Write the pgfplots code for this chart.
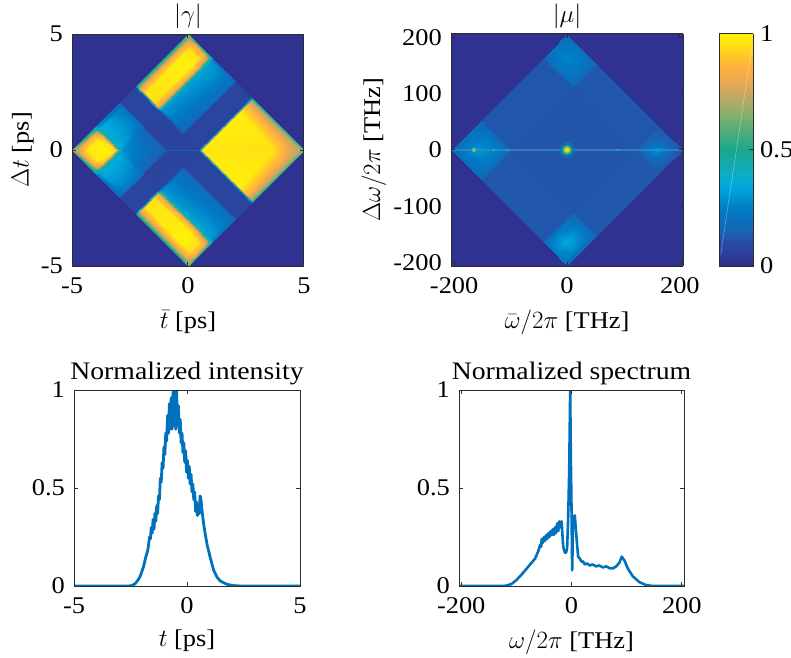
\documentclass[border=0pt]{standalone}
\usepackage{fontspec}
\setmainfont[FakeStretch=1.1]{Liberation Serif}
\usepackage{pgfplots}
\usepackage{pgfplotstable}
\pgfplotsset{compat=1.18}
\definecolor{mblue}{RGB}{0,114,189}
\definecolor{bgc}{RGB}{48,50,145}
\definecolor{axc}{RGB}{45,45,45}
\newcommand\fs{\fontsize{24}{28}\selectfont}
\newcommand\ft{\fontsize{25.2}{29}\selectfont}
\pgfplotsset{
 colormap={par}{rgb255=(50,45,135) rgb255=(45,62,152) rgb255=(40,74,164) rgb255=(25,100,180) rgb255=(10,112,190) rgb255=(0,125,197) rgb255=(0,150,210) rgb255=(0,170,218) rgb255=(15,172,195) rgb255=(20,170,165) rgb255=(25,167,140) rgb255=(60,170,130) rgb255=(95,172,118) rgb255=(130,175,110) rgb255=(170,172,105) rgb255=(205,168,95) rgb255=(235,170,80) rgb255=(255,175,65) rgb255=(255,195,45) rgb255=(255,225,20) rgb255=(255,240,10)},
 base/.style={
  scale only axis,
  font=\fs, tick label style={font=\fs}, label style={font=\fs}, title style={font=\ft,yshift=-9pt},
  axis line style={axc,line width=1pt}, tick align=inside, major tick length=4pt,
  tick style={axc,line width=1pt}, axis on top, clip=true,
  xticklabel style={yshift=-3.5pt}, yticklabel style={xshift=-1pt}, ylabel shift=-9pt,
 },
 heat/.style={base, width=232pt,height=232pt, view={0}{90}, zmin=-1,zmax=1, ztick=\empty,
  axis background/.style={fill=bgc}, point meta min=0, point meta max=1},
 curve/.style={base, width=226pt,height=196pt, ymin=0,ymax=1, ytick={0,0.5,1}, yticklabels={0,0.5,1}},
}
\pgfplotstableread{
p q c
-5 -5 .70
-5 -4.7 .62
-5 -4.3 .50
-5 -3.5 .45
-5 -3.15 .40
-5 -2.85 .25
-5 -1 .18
-5 -.85 .08
-5 .4 .08
-5 .6 .48
-5 3.7 .48
-5 4.4 .50
-5 4.8 .62
-5 5 .72
-4.7 -5 .62
-4.7 -4.7 .78
-4.7 -4.3 .85
-4.7 -3.5 .85
-4.7 -3.15 .72
-4.7 -2.85 .38
-4.7 -1 .22
-4.7 -.85 .08
-4.7 .4 .08
-4.7 .6 .80
-4.7 3.7 .82
-4.7 4.4 .82
-4.7 4.8 .75
-4.7 5 .62
-4.3 -5 .50
-4.3 -4.7 .85
-4.3 -4.3 .97
-4.3 -3.5 1
-4.3 -3.15 .88
-4.3 -2.85 .38
-4.3 -1 .24
-4.3 -.85 .08
-4.3 .4 .08
-4.3 .6 .95
-4.3 3.7 1
-4.3 4.4 .95
-4.3 4.8 .82
-4.3 5 .52
-3.5 -5 .45
-3.5 -4.7 .85
-3.5 -4.3 1
-3.5 -3.5 1
-3.5 -3.15 .95
-3.5 -2.85 .36
-3.5 -1 .24
-3.5 -.85 .08
-3.5 .4 .08
-3.5 .6 .95
-3.5 3.7 1
-3.5 4.4 .95
-3.5 4.8 .85
-3.5 5 .50
-3.15 -5 .40
-3.15 -4.7 .72
-3.15 -4.3 .88
-3.15 -3.5 .95
-3.15 -3.15 .95
-3.15 -2.85 .36
-3.15 -1 .22
-3.15 -.85 .08
-3.15 .4 .08
-3.15 .6 .82
-3.15 3.7 .85
-3.15 4.4 .80
-3.15 4.8 .72
-3.15 5 .45
-2.85 -5 .25
-2.85 -4.7 .38
-2.85 -4.3 .38
-2.85 -3.5 .36
-2.85 -3.15 .36
-2.85 -2.85 .30
-2.85 -1 .17
-2.85 -.85 .07
-2.85 .4 .08
-2.85 .6 .30
-2.85 3.7 .33
-2.85 4.4 .33
-2.85 4.8 .30
-2.85 5 .22
-1 -5 .18
-1 -4.7 .22
-1 -4.3 .24
-1 -3.5 .24
-1 -3.15 .22
-1 -2.85 .17
-1 -1 .13
-1 -.85 .07
-1 .4 .08
-1 .6 .17
-1 3.7 .20
-1 4.4 .20
-1 4.8 .20
-1 5 .17
-.85 -5 .08
-.85 -4.7 .08
-.85 -4.3 .08
-.85 -3.5 .08
-.85 -3.15 .08
-.85 -2.85 .07
-.85 -1 .07
-.85 -.85 .07
-.85 .4 .07
-.85 .6 .08
-.85 3.7 .08
-.85 4.4 .08
-.85 4.8 .08
-.85 5 .08
.4 -5 .08
.4 -4.7 .08
.4 -4.3 .08
.4 -3.5 .08
.4 -3.15 .08
.4 -2.85 .08
.4 -1 .08
.4 -.85 .07
.4 .4 .07
.4 .6 .08
.4 3.7 .08
.4 4.4 .08
.4 4.8 .08
.4 5 .08
.6 -5 .48
.6 -4.7 .80
.6 -4.3 .95
.6 -3.5 .95
.6 -3.15 .82
.6 -2.85 .30
.6 -1 .17
.6 -.85 .08
.6 .4 .08
.6 .6 .97
.6 3.7 1
.6 4.4 .88
.6 4.8 .72
.6 5 .50
3.7 -5 .48
3.7 -4.7 .82
3.7 -4.3 1
3.7 -3.5 1
3.7 -3.15 .85
3.7 -2.85 .33
3.7 -1 .20
3.7 -.85 .08
3.7 .4 .08
3.7 .6 1
3.7 3.7 .95
3.7 4.4 .85
3.7 4.8 .72
3.7 5 .55
4.4 -5 .50
4.4 -4.7 .82
4.4 -4.3 .95
4.4 -3.5 .95
4.4 -3.15 .80
4.4 -2.85 .33
4.4 -1 .20
4.4 -.85 .08
4.4 .4 .08
4.4 .6 .88
4.4 3.7 .85
4.4 4.4 .78
4.4 4.8 .72
4.4 5 .56
4.8 -5 .62
4.8 -4.7 .75
4.8 -4.3 .82
4.8 -3.5 .85
4.8 -3.15 .72
4.8 -2.85 .30
4.8 -1 .20
4.8 -.85 .08
4.8 .4 .08
4.8 .6 .72
4.8 3.7 .72
4.8 4.4 .72
4.8 4.8 .72
4.8 5 .62
5 -5 .72
5 -4.7 .62
5 -4.3 .52
5 -3.5 .50
5 -3.15 .45
5 -2.85 .22
5 -1 .17
5 -.85 .08
5 .4 .08
5 .6 .50
5 3.7 .55
5 4.4 .56
5 4.8 .62
5 5 .72
}\gammatab
\pgfplotstableread{
p q c
-204 -204 .18
-204 -165 .20
-204 -130 .20
-204 -105 .18
-204 -98 .125
-204 120 .125
-204 125 .20
-204 160 .25
-204 188 .24
-204 204 .22
-165 -204 .20
-165 -165 .30
-165 -130 .25
-165 -105 .20
-165 -98 .125
-165 120 .125
-165 125 .24
-165 160 .35
-165 188 .28
-165 204 .20
-130 -204 .20
-130 -165 .25
-130 -130 .27
-130 -105 .20
-130 -98 .125
-130 120 .125
-130 125 .23
-130 160 .28
-130 188 .25
-130 204 .18
-105 -204 .18
-105 -165 .20
-105 -130 .20
-105 -105 .18
-105 -98 .125
-105 120 .125
-105 125 .18
-105 160 .20
-105 188 .20
-105 204 .16
-98 -204 .125
-98 -165 .125
-98 -130 .125
-98 -105 .125
-98 -98 .12
-98 120 .12
-98 125 .125
-98 160 .125
-98 188 .125
-98 204 .125
120 -204 .125
120 -165 .125
120 -130 .125
120 -105 .125
120 -98 .12
120 120 .12
120 125 .125
120 160 .125
120 188 .125
120 204 .125
125 -204 .18
125 -165 .22
125 -130 .21
125 -105 .18
125 -98 .125
125 120 .125
125 125 .14
125 160 .15
125 188 .14
125 204 .125
160 -204 .22
160 -165 .27
160 -130 .24
160 -105 .18
160 -98 .125
160 120 .125
160 125 .15
160 160 .31
160 188 .16
160 204 .125
188 -204 .20
188 -165 .24
188 -130 .22
188 -105 .18
188 -98 .125
188 120 .125
188 125 .14
188 160 .16
188 188 .14
188 204 .125
204 -204 .20
204 -165 .20
204 -130 .18
204 -105 .16
204 -98 .125
204 120 .125
204 125 .125
204 160 .125
204 188 .125
204 204 .125
}\mutab
\pgfplotstableread{
t v
-5 0
-2.6 0
-2.45 .002
-2.29 .012
-2.17 .03
-2.07 .05
-1.92 .10
-1.82 .15
-1.74 .18
-1.70 .21
-1.66 .25
-1.62 .24
-1.58 .30
-1.54 .27
-1.50 .34
-1.46 .29
-1.42 .37
-1.38 .33
-1.34 .41
-1.30 .37
-1.26 .46
-1.22 .44
-1.18 .55
-1.14 .53
-1.10 .63
-1.06 .60
-1.02 .71
-.98 .67
-.94 .78
-.90 .74
-.86 .87
-.82 .78
-.78 .93
-.74 .80
-.70 .96
-.66 .80
-.62 .99
-.58 .82
-.54 1.0
-.50 .80
-.46 1.0
-.42 .82
-.38 .92
-.34 .78
-.30 .85
-.26 .73
-.22 .78
-.18 .68
-.14 .73
-.10 .63
-.06 .69
-.02 .58
.02 .64
.06 .55
.10 .61
.14 .52
.18 .57
.22 .48
.26 .52
.30 .44
.34 .48
.38 .38
.42 .43
.46 .36
.50 .38
.54 .37
.58 .46
.62 .44
.66 .39
.72 .33
.80 .27
.89 .21
1.04 .14
1.18 .08
1.33 .045
1.48 .025
1.78 .008
2.07 .002
2.4 0
5 0
}\intab
\pgfplotstableread{
w v
-204 0
-125 0
-118 .002
-109 .01
-100 .03
-90 .06
-81 .09
-72 .12
-66 .14
-63 .16
-60 .18
-57 .21
-55 .20
-54 .24
-52 .22
-50 .25
-48 .23
-46 .26
-44 .24
-42 .27
-40 .25
-38 .28
-36 .26
-34 .29
-32 .26
-30 .30
-28 .27
-26 .32
-24 .28
-22 .33
-20 .30
-18 .33
-15 .20
-12 .17
-10 .17
-8 .19
-6 .35
-4.1 .6
-2.4 1.0
-1.2 .65
0 .4
1.2 .08
3 .35
6 .36
9 .25
12 .15
15 .14
18 .125
21 .125
24 .11
28 .115
33 .105
38 .11
45 .10
50 .105
57 .095
63 .10
70 .09
75 .09
81 .10
87 .12
91 .15
96 .13
102 .09
111 .05
123 .02
135 .005
147 0
204 0
}\sptab
\begin{document}
\fs
\begin{tikzpicture}
\path[use as bounding box] (0,0) rectangle (791pt,657pt);
% |gamma|
\begin{axis}[heat, at={(72pt,391pt)}, anchor=south west, xmin=-5,xmax=5,ymin=-5,ymax=5,
  xtick={-5,0,5}, ytick={-5,0,5}, xticklabels={-5,0,5}, yticklabels={-5,0,5},
  title={$|\gamma|$}, xlabel={$\bar{t}$ [ps]}, ylabel={$\Delta t$ [ps]}]
\addplot3[surf, shader=interp, mesh/rows=14, mesh/cols=14, point meta=\thisrow{c}]
  table[x expr=(\thisrow{p}+\thisrow{q})/2, y expr=(\thisrow{p}-\thisrow{q})/2, z expr=0] {\gammatab};
\addplot3[no marks, color=mblue, opacity=.8, line width=.8pt] coordinates {(-2.8,0,0) (0.55,0,0)};
\end{axis}
% |mu|
\begin{axis}[heat, at={(451pt,391pt)}, anchor=south west, xmin=-205.6,xmax=205.6,ymin=-205.6,ymax=205.6,
  xtick={-200,0,200}, ytick={-200,-100,0,100,200}, xticklabels={-200,0,200}, yticklabels={-200,-100,0,100,200},
  title={$|\mu|$}, xlabel={$\bar{\omega}/2\pi$ [THz]}, ylabel={$\Delta\omega/2\pi$ [THz]}]
\addplot3[surf, shader=interp, mesh/rows=10, mesh/cols=10, point meta=\thisrow{c}]
  table[x expr=(\thisrow{p}+\thisrow{q})/2, y expr=(\thisrow{p}-\thisrow{q})/2, z expr=0] {\mutab};
\addplot3[no marks, color={rgb,255:red,50;green,140;blue,190}, opacity=.8, line width=1.5pt] coordinates {(-204,0,0) (204,0,0)};
\addplot3[only marks, mark=*, mark size=8pt, color={rgb,255:red,15;green,120;blue,180}, mark options={draw opacity=0,fill opacity=.7}] coordinates {(0,0,0)};
\addplot3[only marks, mark=*, mark size=5pt, color={rgb,255:red,60;green,170;blue,130}, mark options={draw opacity=0}] coordinates {(0,0,0)};
\addplot3[only marks, mark=*, mark size=2.8pt, color={rgb,255:red,220;green,220;blue,40}, mark options={draw opacity=0}] coordinates {(0,0,0)};
\addplot3[only marks, mark=*, mark size=2pt, color={rgb,255:red,140;green,180;blue,110}, mark options={draw opacity=0}] coordinates {(-165,0,0)};
\addplot3[only marks, mark=*, mark size=1.3pt, color={rgb,255:red,60;green,170;blue,170}, mark options={draw opacity=0}] coordinates {(-105,0,0) (-130,0,0) (90,0,0)};
\end{axis}
% colour bar
\begin{axis}[base, at={(719pt,391pt)}, anchor=south west, width=34pt, height=232pt, view={0}{90},
  xmin=0,xmax=1,ymin=0,ymax=1,zmin=-1,zmax=1, xtick=\empty, ztick=\empty, ytick={0,0.5,1}, yticklabels={0,0.5,1},
  ytick pos=right, yticklabel pos=right, point meta min=0, point meta max=1, yticklabel style={xshift=0pt}]
\addplot3[surf, shader=interp, mesh/rows=2, mesh/cols=2, point meta=\thisrow{c}] table[x=x,y=y,z=z] {
x y z c
0 0 0 0
1 0 0 0
0 1 0 1
1 1 0 1
};
\addplot3[no marks, color=white, opacity=.35, line width=.6pt] coordinates {(0.05,0.05,0) (0.95,0.93,0)};
\end{axis}
% intensity
\begin{axis}[curve, at={(74pt,71pt)}, anchor=south west, xmin=-5,xmax=5, xtick={-5,0,5}, xticklabels={-5,0,5},
  title={Normalized intensity}, xlabel={$t$ [ps]}]
\addplot[mblue, line width=2.8pt, no marks, line join=round] table[x=t,y=v] {\intab};
\end{axis}
% spectrum
\begin{axis}[curve, at={(459pt,71pt)}, anchor=south west, width=225pt, xmin=-204,xmax=204, xtick={-200,0,200}, xticklabels={-200,0,200},
  title={Normalized spectrum}, xlabel={$\omega/2\pi$ [THz]}]
\addplot[mblue, line width=2.6pt, no marks, line join=round] table[x=w,y=v] {\sptab};
\end{axis}
\end{tikzpicture}
\end{document}
